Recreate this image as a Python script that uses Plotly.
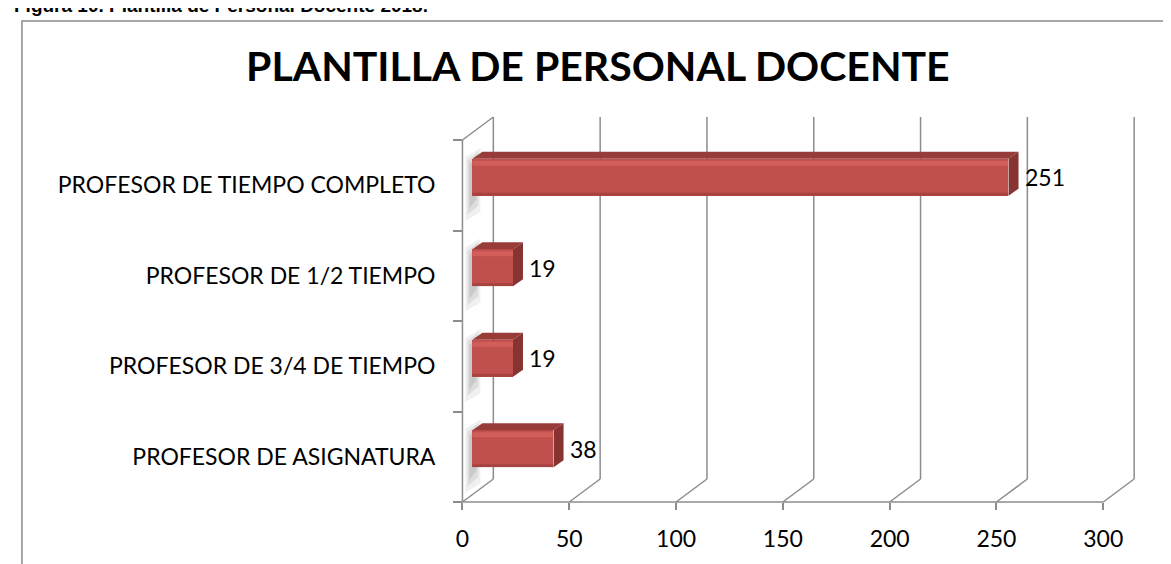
import plotly.graph_objects as go

# ---- data ----
categories = ["PROFESOR DE ASIGNATURA", "PROFESOR DE 3/4 DE TIEMPO",
              "PROFESOR DE 1/2 TIEMPO", "PROFESOR DE TIEMPO COMPLETO"]
values = [38, 19, 19, 251]
x_ticks = [0, 50, 100, 150, 200, 250, 300]
title_text = "PLANTILLA DE PERSONAL DOCENTE"
caption_text = "Figura 10. Plantilla de Personal Docente 2018."

# ---- layout geometry (pixels) ----
W, H = 1171, 564
FX0, FX1 = 452, 1095      # front plane: x=0 and x=300
FYB, FYT = 494, 132       # front plane: bottom / top of category bands
XMAX = x_ticks[-1]
SX = (FX1 - FX0) / XMAX
n = len(categories)
SY = (FYB - FYT) / n
DX = 31 / SX              # depth offset of back wall (data units)
DY = 23 / SY
PAD = 3
xr = [-PAD / SX, XMAX + DX + PAD / SX]
yr = [-0.5 - PAD / SY, n - 0.5 + DY + PAD / SY]
xdom = [(FX0 - PAD) / W, (FX0 + (XMAX + DX) * SX + PAD) / W]
ydom = [1 - (FYB + PAD) / H, 1 - (FYB - (n + DY) * SY - PAD) / H]

# bar geometry
BX0 = 10 / SX
BY0 = 8 / SY
BW = 37 / SY
BDX = 10 / SX
BDY = 7 / SY

ypos = list(range(n))
GRID = "#8c8c8c"
FONT = "Lato"
FS = 23

fig = go.Figure()
fig.add_trace(go.Bar(
    y=ypos, x=values, base=BX0, orientation="h", width=BW, offset=BY0 - BW / 2,
    marker=dict(color="#C0504D", line=dict(width=0)), hoverinfo="skip",
    showlegend=False,
))

shapes = []
lo, hi = -0.5, n - 0.5
# back wall gridlines and floor diagonals
for t in x_ticks:
    shapes.append(dict(type="line", xref="x", yref="y", x0=t + DX, y0=lo + DY,
                       x1=t + DX, y1=hi + DY, line=dict(color=GRID, width=1.5), layer="below"))
    shapes.append(dict(type="line", xref="x", yref="y", x0=t, y0=lo,
                       x1=t + DX, y1=lo + DY, line=dict(color=GRID, width=1.5), layer="below"))
# front axis lines
shapes.append(dict(type="line", xref="x", yref="y", x0=0, y0=lo, x1=XMAX, y1=lo,
                   line=dict(color=GRID, width=1.5), layer="below"))
shapes.append(dict(type="line", xref="x", yref="y", x0=0, y0=lo, x1=0, y1=hi,
                   line=dict(color=GRID, width=1.5), layer="below"))
shapes.append(dict(type="line", xref="x", yref="y", x0=0, y0=hi, x1=DX, y1=hi + DY,
                   line=dict(color=GRID, width=1.5), layer="below"))

annotations = []
for i, v in enumerate(values):
    yc = i + BY0
    yt = yc + BW / 2
    yb = yc - BW / 2
    x0 = BX0
    x1 = BX0 + v
    # soft shadow on the left wall
    for k, op in [(0, 0.09), (1, 0.12), (2, 0.15)]:
        sx0 = (3 + 2 * k) / SX
        sx1 = (18 - 2 * k) / SX
        shapes.append(dict(type="path", xref="x", yref="y", layer="below",
                           path=f"M {sx0},{yb - 0.28 + 0.07 * k} L {sx1},{yb - 0.18 + 0.07 * k} "
                                f"L {sx1},{yt + 0.12 - 0.04 * k} L {sx0},{yt + 0.02 - 0.04 * k} Z",
                           fillcolor=f"rgba(90,90,90,{op})", line=dict(width=0)))
    # top face
    shapes.append(dict(type="path", xref="x", yref="y", layer="above",
                       path=f"M {x0},{yt} L {x1},{yt} L {x1 + BDX},{yt + BDY} L {x0 + BDX},{yt + BDY} Z",
                       fillcolor="#983C3A", line=dict(width=0)))
    # right face
    shapes.append(dict(type="path", xref="x", yref="y", layer="above",
                       path=f"M {x1},{yb} L {x1},{yt} L {x1 + BDX},{yt + BDY} L {x1 + BDX},{yb + BDY} Z",
                       fillcolor="#873331", line=dict(width=0)))
    # highlight stripe near the top of the front face
    shapes.append(dict(type="rect", xref="x", yref="y", layer="above",
                       x0=x0, x1=x1, y0=yt - 7 / SY, y1=yt - 2 / SY,
                       fillcolor="rgba(230,110,105,0.45)", line=dict(width=0)))
    # slightly darker lower edge of the front face
    shapes.append(dict(type="rect", xref="x", yref="y", layer="above",
                       x0=x0, x1=x1, y0=yb, y1=yb + 3 / SY,
                       fillcolor="rgba(120,40,38,0.35)", line=dict(width=0)))
    annotations.append(dict(x=x1 + BDX, y=yc, xref="x", yref="y", text=str(v),
                            showarrow=False, xanchor="left", yanchor="middle", xshift=4,
                            font=dict(family=FONT, size=FS, color="#000000")))

# outer chart border
shapes.append(dict(type="rect", xref="paper", yref="paper", x0=10 / W, x1=1167 / W,
                   y0=1 - 580 / H, y1=1 - 13 / H, line=dict(color="#8c8c8c", width=1.5),
                   fillcolor="rgba(0,0,0,0)", layer="below"))

annotations.append(dict(x=588 / W, y=1 - 57 / H, xref="paper", yref="paper",
                        text=f"<b>{title_text}</b>", showarrow=False,
                        xanchor="center", yanchor="middle",
                        font=dict(family=FONT, size=41, color="#000000")))
annotations.append(dict(x=0, y=1 - 10 / H, xref="paper", yref="paper",
                        text=f"<b>{caption_text}</b>", showarrow=False,
                        xanchor="left", yanchor="bottom",
                        font=dict(family="Liberation Sans", size=19, color="#000000")))

fig.update_layout(
    width=W, height=H, margin=dict(l=0, r=0, t=0, b=0),
    paper_bgcolor="white", plot_bgcolor="rgba(0,0,0,0)",
    shapes=shapes, annotations=annotations, bargap=0,
    xaxis=dict(domain=xdom, range=xr, tickmode="array", tickvals=x_ticks,
               ticks="outside", ticklen=7, tickwidth=1.5, tickcolor=GRID,
               showgrid=False, zeroline=False, showline=False,
               anchor="free", position=1 - FYB / H, ticklabelstandoff=9,
               tickfont=dict(family=FONT, size=FS, color="#000000"), fixedrange=True),
    yaxis=dict(domain=ydom, range=yr, tickmode="array", tickvals=ypos, ticktext=categories,
               ticks="", showgrid=False, zeroline=False, showline=False,
               minor=dict(tickvals=[p - 0.5 for p in range(n + 1)], ticks="outside",
                          ticklen=9, tickwidth=1.5, tickcolor=GRID, showgrid=False),
               anchor="free", position=FX0 / W, ticklabelstandoff=27,
               tickfont=dict(family=FONT, size=FS, color="#000000"), fixedrange=True),
)

fig.write_html("out.html")
